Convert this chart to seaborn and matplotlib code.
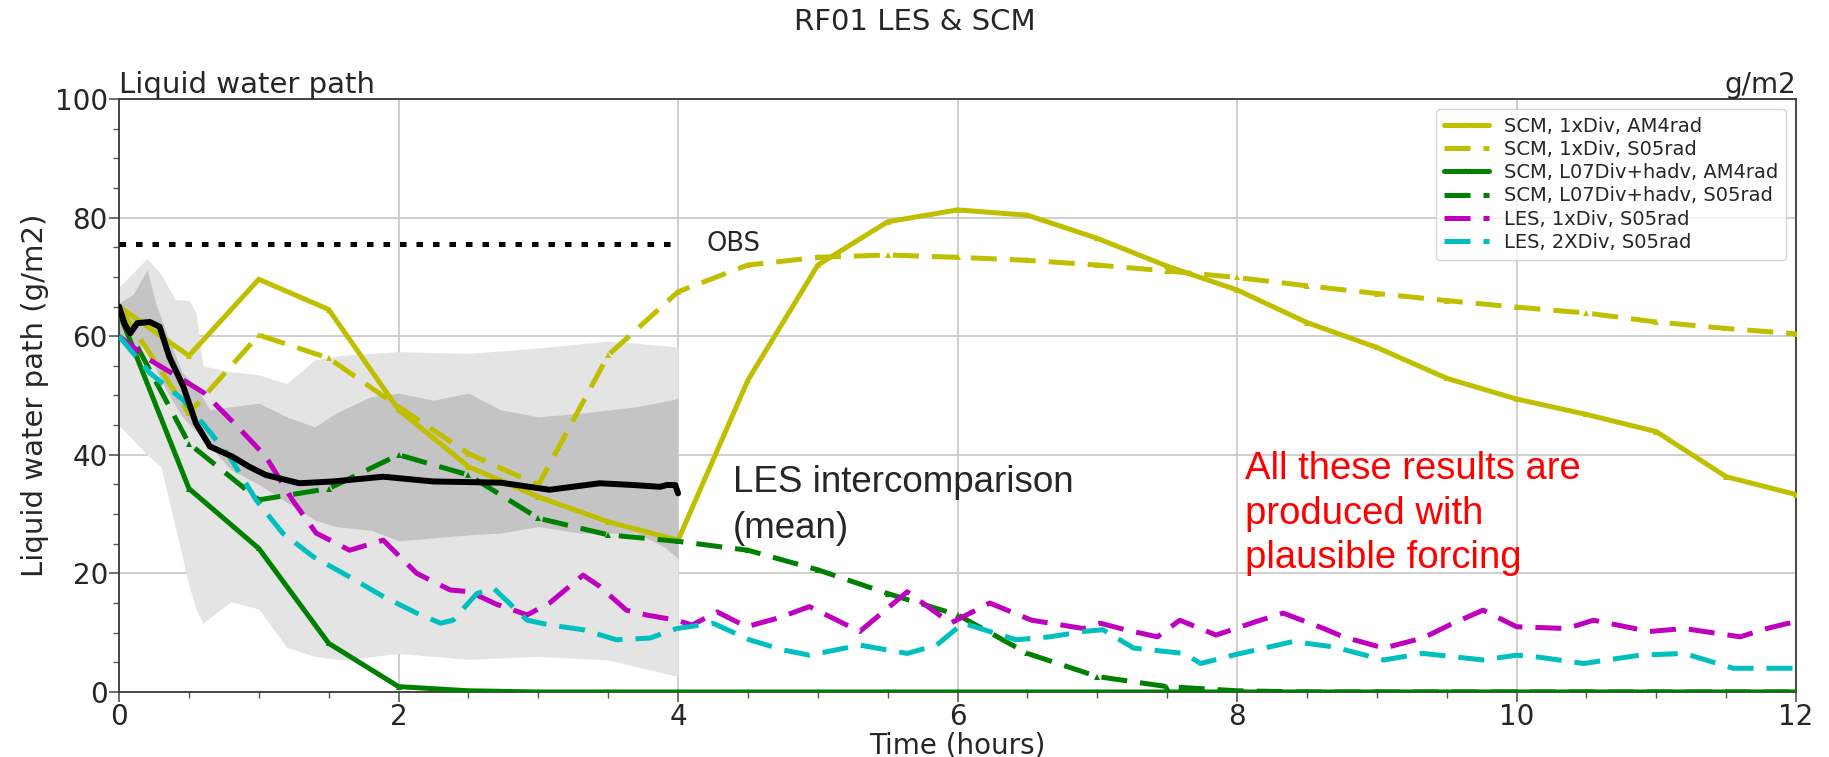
import numpy as np
import matplotlib
matplotlib.use("Agg")
import matplotlib.pyplot as plt
from matplotlib.ticker import MultipleLocator
import seaborn as sns

# ---- SCM runs, output every half hour ----
scm_time = [0.0, 0.5, 1.0, 1.5, 2.0, 2.5, 3.0, 3.5, 4.0, 4.5, 5.0, 5.5, 6.0,
            6.5, 7.0, 7.5, 8.0, 8.5, 9.0, 9.5, 10.0, 10.5, 11.0, 11.5, 12.0]
scm_1x_am4 = [65.0, 56.7, 69.6, 64.5, 47.6, 38.0, 32.9, 28.7, 25.6, 52.6, 72.0, 79.3, 81.3,
              80.4, 76.5, 71.8, 67.8, 62.3, 58.1, 52.9, 49.4, 46.8, 43.9, 36.3, 33.3]
scm_1x_s05 = [65.0, 47.0, 60.2, 56.3, 48.1, 40.2, 34.9, 56.8, 67.5, 72.0, 73.3, 73.7, 73.3,
              72.8, 72.0, 71.0, 69.9, 68.5, 67.2, 66.0, 64.9, 63.9, 62.4, 61.3, 60.4]
scm_l07_am4 = [64.0, 34.3, 24.2, 8.2, 0.9, 0.2, 0.0, 0.0, 0.0, 0.0, 0.0, 0.0, 0.0,
               0.0, 0.0, 0.0, 0.0, 0.0, 0.0, 0.0, 0.0, 0.0, 0.0, 0.0, 0.0]
scm_l07_s05 = [64.0, 41.9, 32.4, 34.3, 40.0, 36.6, 29.3, 26.5, 25.4, 23.9, 20.6, 16.6, 13.0,
               6.5, 2.6, 0.9, 0.2, 0.0, 0.0, 0.0, 0.0, 0.0, 0.0, 0.0, 0.0]

# ---- LES runs ----
les_1x_time = [0.0, 0.22, 0.46, 0.61, 0.85, 1.05, 1.24, 1.41, 1.65, 1.89, 2.01, 2.13, 2.37,
               2.51, 2.7, 2.92, 3.08, 3.32, 3.44, 3.63, 3.77, 3.99, 4.1, 4.28, 4.49, 4.72,
               4.94, 5.3, 5.64, 5.95, 6.23, 6.53, 6.9, 7.02, 7.2, 7.43, 7.59, 7.85, 8.14,
               8.33, 8.62, 8.76, 9.05, 9.33, 9.52, 9.76, 10.0, 10.36, 10.55, 10.95, 11.2,
               11.6, 11.79, 12.0]
les_1x_s05 = [60.0, 56.0, 52.6, 50.4, 44.7, 39.7, 32.4, 26.8, 23.9, 25.6, 22.8, 20.0, 17.2,
              16.9, 14.8, 13.0, 15.0, 19.7, 17.8, 13.8, 13.0, 12.1, 11.3, 13.5, 11.0, 12.5,
              14.4, 10.2, 16.9, 11.6, 15.0, 12.1, 10.7, 11.6, 10.5, 9.3, 12.1, 9.6, 11.9,
              13.3, 10.7, 9.3, 7.4, 9.1, 11.3, 13.8, 11.0, 10.7, 12.1, 10.2, 10.7,
              9.3, 10.7, 11.9]

les_2x_time = [0.0, 0.22, 0.46, 0.62, 0.79, 0.98, 1.17, 1.39, 1.65, 1.89, 2.13, 2.3, 2.39,
               2.56, 2.68, 2.92, 3.08, 3.32, 3.56, 3.8, 3.99, 4.25, 4.51, 4.75, 4.94, 5.3,
               5.64, 5.85, 6.04, 6.42, 6.66, 6.9, 7.04, 7.26, 7.62, 7.74, 7.97, 8.4, 8.69,
               9.05, 9.33, 9.76, 10.0, 10.12, 10.48, 10.88, 11.2, 11.55, 12.0]
les_2x_s05 = [60.0, 53.8, 49.2, 44.7, 39.7, 32.4, 26.8, 22.8, 19.4, 16.1, 13.3, 11.6, 12.1,
              16.6, 17.5, 12.1, 11.3, 10.5, 8.8, 9.1, 10.7, 11.6, 8.8, 7.1, 6.2, 7.9,
              6.5, 7.9, 11.6, 8.8, 9.3, 10.2, 10.5, 7.4, 6.5, 4.8, 6.2, 8.5, 7.6,
              5.4, 6.5, 5.4, 6.2, 6.0, 4.8, 6.2, 6.5, 4.0, 4.0]

# ---- LES intercomparison ensemble ----
ens_time = [0.0, 0.04, 0.08, 0.13, 0.22, 0.29, 0.36, 0.46, 0.55, 0.65, 0.81, 0.93, 1.05,
            1.29, 1.53, 1.89, 2.25, 2.73, 3.08, 3.44, 3.68, 3.87, 3.92, 3.98, 4.0]
ens_mean = [65.0, 62.0, 60.5, 62.2, 62.4, 61.6, 56.5, 51.5, 45.3, 41.4, 39.7, 38.0, 36.6,
            35.2, 35.5, 36.3, 35.5, 35.3, 34.1, 35.2, 34.9, 34.6, 34.9, 34.9, 33.5]

range_time = [0.0, 0.2, 0.3, 0.4, 0.5, 0.55, 0.6, 0.8, 1.0, 1.2, 1.4, 1.6, 2.0, 2.5,
              3.0, 3.5, 4.0]
range_hi = [68.3, 73.1, 70.5, 66.2, 66.0, 64.0, 55.0, 54.0, 53.5, 52.0, 56.0, 56.8, 57.4,
            57.1, 58.0, 59.2, 58.2]
range_lo = [45.0, 40.0, 38.0, 28.0, 18.0, 14.0, 11.6, 15.2, 14.0, 7.5, 6.0, 5.4, 6.5,
            5.5, 6.0, 5.4, 2.6]

spread_time = [0.0, 0.1, 0.2, 0.27, 0.35, 0.45, 0.55, 0.65, 0.8, 1.0, 1.2, 1.4, 1.55,
               1.8, 2.0, 2.25, 2.5, 2.73, 3.0, 3.3, 3.7, 3.9, 4.0]
spread_hi = [65.6, 67.0, 71.2, 65.0, 59.9, 54.0, 51.5, 47.6, 48.1, 48.7, 46.4, 44.7, 47.0,
             49.8, 50.4, 49.2, 50.4, 47.6, 46.4, 47.0, 48.1, 49.0, 49.5]
spread_lo = [59.9, 58.5, 58.2, 54.0, 50.4, 46.5, 44.0, 41.4, 37.5, 35.0, 32.0, 29.0, 27.9,
             27.3, 25.5, 26.0, 26.5, 26.8, 27.9, 26.8, 26.8, 24.5, 22.5]

obs_time = [0.0, 4.0]
obs_lwp = [75.5, 75.5]

labels = ["SCM, 1xDiv, AM4rad", "SCM, 1xDiv, S05rad",
          "SCM, L07Div+hadv, AM4rad", "SCM, L07Div+hadv, S05rad",
          "LES, 1xDiv, S05rad", "LES, 2XDiv, S05rad"]

sns.set_style("whitegrid", {"grid.color": "#cbcbcb", "axes.edgecolor": "#3a3a3a"})
plt.rcParams["font.family"] = ["DejaVu Sans"]

fig = plt.figure(figsize=(18.29, 7.57), dpi=100)
ax = fig.add_axes([0.0651, 0.0859, 0.9169, 0.7833])

# ensemble envelopes
ax.fill_between(range_time, range_lo, range_hi, color="#e4e4e4", lw=0, zorder=1)
ax.fill_between(spread_time, spread_lo, spread_hi, color="#c4c4c4", lw=0, zorder=1.1)

dash = (0, (5.2, 2.6))
lw = 3.6
common = dict(ax=ax, lw=lw, markersize=5, marker="^", markeredgewidth=0, sort=False)
sns.lineplot(x=scm_time, y=scm_1x_am4, color="y", linestyle="-", label=labels[0], zorder=3, **common)
sns.lineplot(x=scm_time, y=scm_1x_s05, color="y", linestyle=dash, label=labels[1], zorder=3, **common)
sns.lineplot(x=scm_time, y=scm_l07_am4, color="g", linestyle="-", label=labels[2], zorder=3, **common)
sns.lineplot(x=scm_time, y=scm_l07_s05, color="g", linestyle=dash, label=labels[3], zorder=3, **common)
sns.lineplot(x=les_1x_time, y=les_1x_s05, color="m", linestyle=dash, lw=lw, ax=ax,
             label=labels[4], zorder=3, sort=False)
sns.lineplot(x=les_2x_time, y=les_2x_s05, color="c", linestyle=dash, lw=lw, ax=ax,
             label=labels[5], zorder=3, sort=False)

sns.lineplot(x=ens_time, y=ens_mean, color="k", lw=4.3, ax=ax, zorder=4, sort=False)
sns.lineplot(x=obs_time, y=obs_lwp, color="k", lw=3.6, linestyle=(0, (1.3, 2.0)),
             ax=ax, zorder=4, sort=False)

ax.set_xlim(0, 12)
ax.set_ylim(0, 100)
ax.xaxis.set_major_locator(MultipleLocator(2))
ax.xaxis.set_minor_locator(MultipleLocator(0.5))
ax.yaxis.set_major_locator(MultipleLocator(20))
ax.yaxis.set_minor_locator(MultipleLocator(5))
ax.grid(True, which="major", color="#cbcbcb", lw=1.3)
ax.grid(False, which="minor")
ax.tick_params(axis="both", which="major", labelsize=20, length=7, width=1.2,
               color="#555555", direction="out", bottom=True, left=True, pad=1)
ax.tick_params(axis="both", which="minor", length=4, width=1.0, color="#555555",
               direction="out", bottom=True, left=True)
for s in ax.spines.values():
    s.set_linewidth(1.3)
    s.set_color("#3a3a3a")

ax.set_xlabel("Time (hours)", fontsize=20, labelpad=0)
ax.set_ylabel("Liquid water path (g/m2)", fontsize=21, labelpad=4)
ax.set_title("Liquid water path", loc="left", fontsize=21, pad=3)
ax.set_title("g/m2", loc="right", fontsize=20, pad=3)
fig.text(0.5, 0.971, "RF01 LES & SCM", ha="center", va="center", fontsize=21)

ax.text(4.2, 75.6, "OBS", fontsize=18.5, va="center", ha="left")
ax.text(4.39, 38.2, "LES intercomparison\n(mean)", fontsize=26.5, va="top", ha="left",
        family="Liberation Sans", linespacing=1.4)
ax.text(8.06, 40.6, "All these results are\nproduced with\nplausible forcing", fontsize=27.5,
        color="red", va="top", ha="left", family="Liberation Sans", linespacing=1.3)

ax.legend(loc="upper right", fontsize=14, handlelength=2.3, framealpha=0.8,
          borderaxespad=0.5, labelspacing=0.22)

fig.savefig("out.png", dpi=100)
